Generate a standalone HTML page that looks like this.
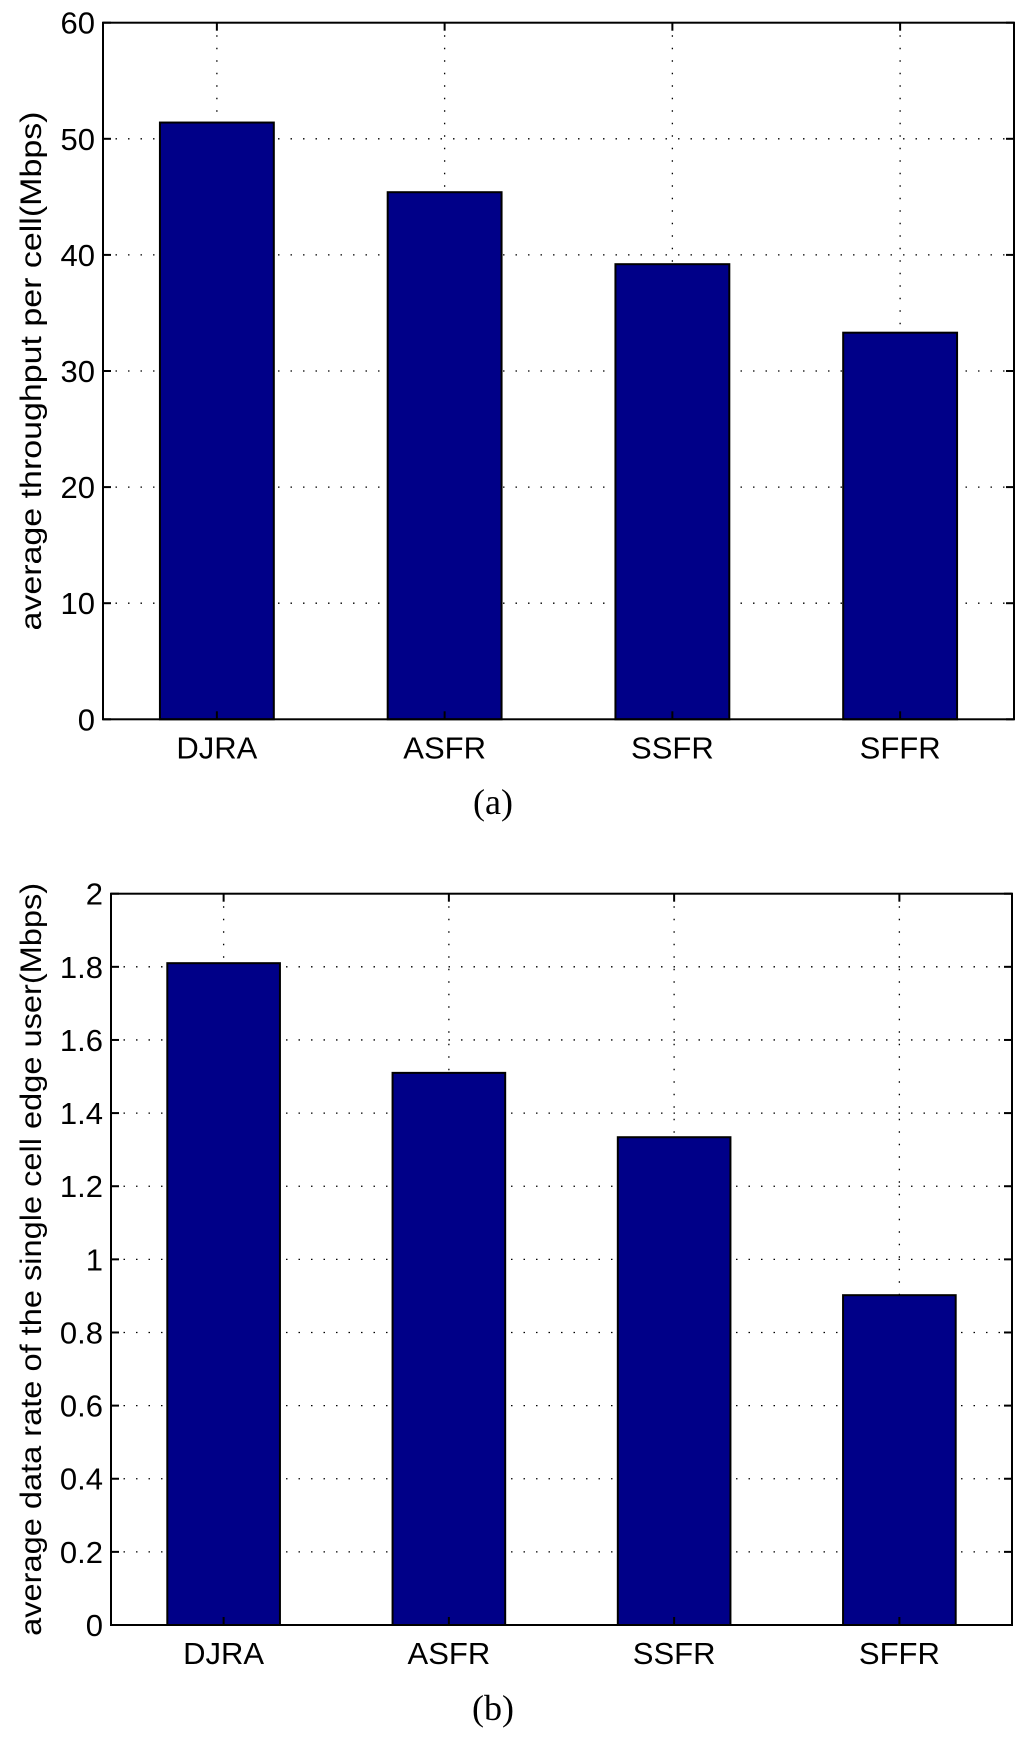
<!DOCTYPE html>
<html><head><meta charset="utf-8"><style>
html,body{margin:0;padding:0;background:#fff;}
svg{display:block;}
</style></head><body>
<svg id="fig" width="1024" height="1741" viewBox="0 0 1024 1741" xmlns="http://www.w3.org/2000/svg"></svg>
<script>
const categories = ["DJRA", "ASFR", "SSFR", "SFFR"];
const throughputValues = [51.4, 45.4, 39.2, 33.3];
const edgeRateValues = [1.81, 1.51, 1.334, 0.902];
const throughputTicks = [0, 10, 20, 30, 40, 50, 60];
const edgeRateTicks = [0, 0.2, 0.4, 0.6, 0.8, 1, 1.2, 1.4, 1.6, 1.8, 2];
const edgeRateTickLabels = ["0", "0.2", "0.4", "0.6", "0.8", "1", "1.2", "1.4", "1.6", "1.8", "2"];

const NS = "http://www.w3.org/2000/svg";
const svg = document.getElementById("fig");
function mk(tag, attrs, parent) {
  const e = document.createElementNS(NS, tag);
  for (const k in attrs) e.setAttribute(k, attrs[k]);
  (parent || svg).appendChild(e);
  return e;
}

function drawChart(cfg) {
  const g = mk("g", {});
  
  
  const L = cfg.left, R = cfg.right, T = cfg.top, B = cfg.bottom;
  const ymin = cfg.ticks[0], ymax = cfg.ticks[cfg.ticks.length - 1];
  const yPx = v => B - (v - ymin) / (ymax - ymin) * (B - T);
  const n = cfg.categories.length;
  const xPx = i => L + (i + 0.5) / n * (R - L);
  const barW = 0.5 / n * (R - L);

  cfg.ticks.forEach((t, i) => {
    if (i === 0 || i === cfg.ticks.length - 1) return;
    const y = yPx(t);
    const gl = mk("line", {x1: L, x2: R, y1: y, y2: y, stroke: "#000", "stroke-width": 1.3, "stroke-dasharray": "1.5 11"}, g);
    
    
  });
  cfg.categories.forEach((c, i) => {
    const x = xPx(i);
    const gl = mk("line", {x1: x, x2: x, y1: T, y2: B, stroke: "#000", "stroke-width": 1.3, "stroke-dasharray": "1.5 11"}, g);
    
    
  });

  cfg.values.forEach((v, i) => {
    const x = xPx(i) - barW / 2;
    const y = yPx(v);
    const r = mk("rect", {x: x, y: y, width: barW, height: B - y, fill: "#000088", stroke: "#000", "stroke-width": 2}, g);
    
    
  });

  const box = mk("rect", {x: L, y: T, width: R - L, height: B - T, fill: "none", stroke: "#000", "stroke-width": 2}, g);
  
  

  cfg.ticks.forEach((t, i) => {
    const y = yPx(t);
    mk("line", {x1: L, x2: L + 8, y1: y, y2: y, stroke: "#000", "stroke-width": 2}, g);
    mk("line", {x1: R - 8, x2: R, y1: y, y2: y, stroke: "#000", "stroke-width": 2}, g);
    const tl = mk("text", {x: L - 8, y: y + 11, "text-anchor": "end", "font-family": "Liberation Sans, sans-serif", "font-size": 31}, g);
    tl.textContent = cfg.tickLabels[i];
    
    
  });
  cfg.categories.forEach((c, i) => {
    const x = xPx(i);
    mk("line", {x1: x, x2: x, y1: B, y2: B - 8, stroke: "#000", "stroke-width": 2}, g);
    mk("line", {x1: x, x2: x, y1: T, y2: T + 8, stroke: "#000", "stroke-width": 2}, g);
    const xl = mk("text", {x: x, y: B + 39, "text-anchor": "middle", "font-family": "Liberation Sans, sans-serif", "font-size": 31}, g);
    xl.textContent = c;
    
    
  });

  const cy = (T + B) / 2 + cfg.titleShift;
  const yt = mk("text", {x: 0, y: 0, transform: "translate(" + cfg.titleX + "," + cy + ") rotate(-90)", "text-anchor": "middle", "font-family": "Liberation Sans, sans-serif", "font-size": 30, textLength: cfg.titleLen, lengthAdjust: "spacingAndGlyphs"}, g);
  yt.textContent = cfg.title;
  
  

  const cap = mk("text", {x: cfg.captionX, y: cfg.captionY, "text-anchor": "middle", "font-family": "Liberation Serif, serif", "font-size": 36}, g);
  cap.textContent = cfg.caption;
  
  
}

drawChart({
  name: "throughput-chart", left: 103, right: 1014, top: 22.7, bottom: 719.3,
  categories: categories, values: throughputValues, ticks: throughputTicks,
  tickLabels: throughputTicks.map(String),
  title: "average throughput per cell(Mbps)", titleX: 41, titleLen: 519, titleShift: 0,
  caption: "(a)", captionX: 493, captionY: 814
});
drawChart({
  name: "edge-rate-chart", left: 111, right: 1012, top: 893.7, bottom: 1625,
  categories: categories, values: edgeRateValues, ticks: edgeRateTicks,
  tickLabels: edgeRateTickLabels,
  title: "average data rate of the single cell edge user(Mbps)", titleX: 41, titleLen: 753, titleShift: 0,
  caption: "(b)", captionX: 493, captionY: 1720
});
</script>
</body></html>
